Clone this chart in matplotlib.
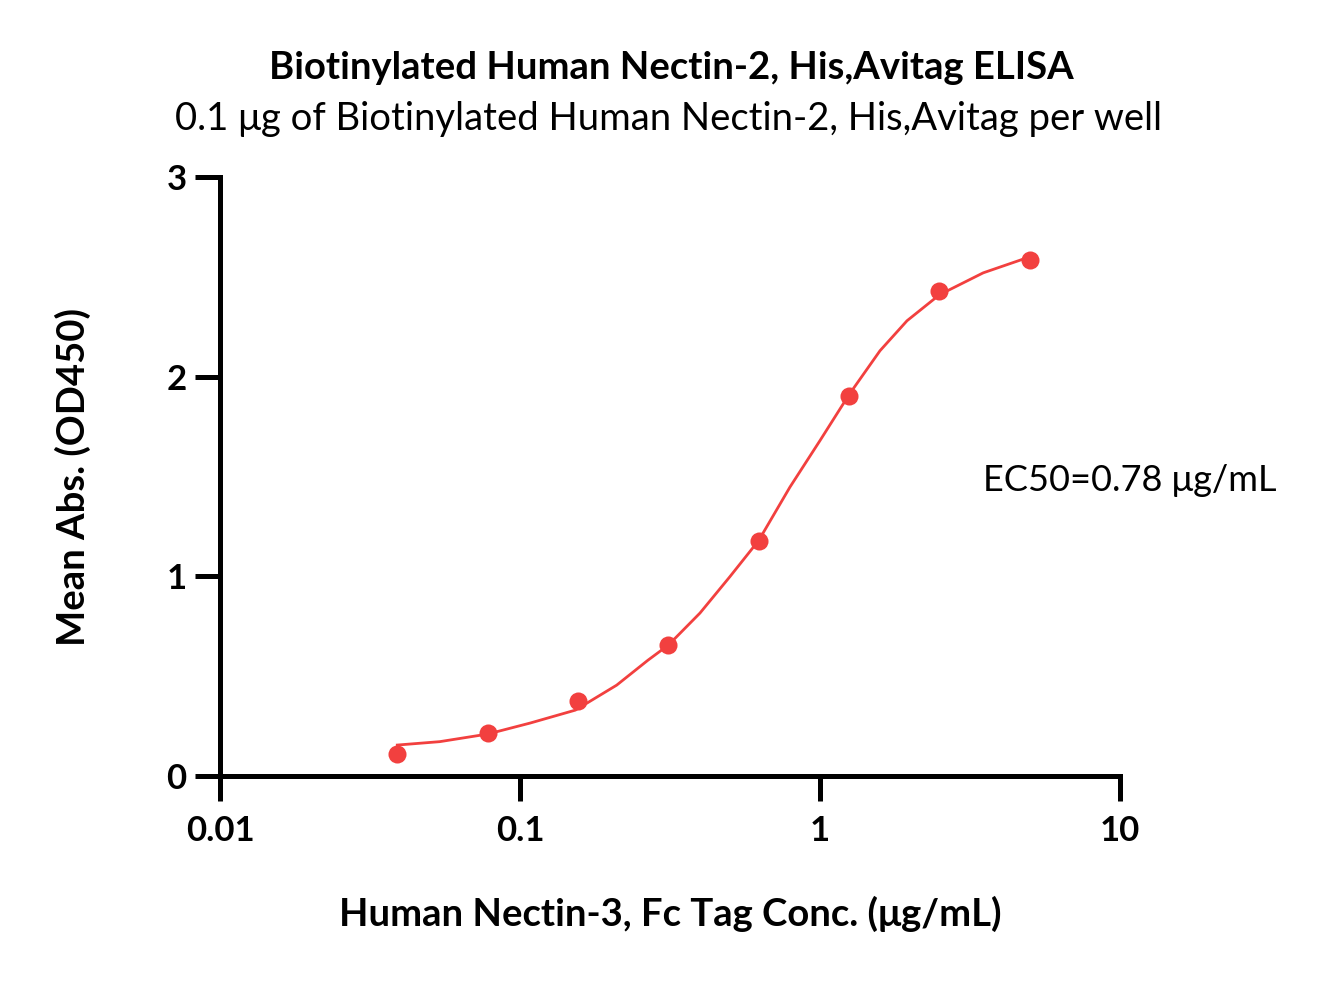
import matplotlib
matplotlib.use("Agg")
import matplotlib.pyplot as plt
from matplotlib.ticker import FixedLocator, NullLocator

plt.rcParams["font.family"] = ["Lato", "DejaVu Sans"]

# measured points
conc = [0.039, 0.078, 0.156, 0.3125, 0.625, 1.25, 2.5, 5.0]
od450 = [0.11, 0.215, 0.375, 0.656, 1.177, 1.903, 2.43, 2.584]

# fitted curve
curve_x = [0.039, 0.054, 0.078, 0.108, 0.153, 0.21, 0.267, 0.3125, 0.398, 0.50,
           0.625, 0.794, 1.0, 1.25, 1.585, 1.95, 2.5, 3.5, 5.0]
curve_y = [0.155, 0.172, 0.21, 0.265, 0.33, 0.455, 0.58, 0.656, 0.816, 0.997,
           1.18, 1.447, 1.68, 1.91, 2.13, 2.28, 2.41, 2.52, 2.60]

x_ticks = [0.01, 0.1, 1, 10]
x_tick_labels = ["0.01", "0.1", "1", "10"]
y_ticks = [0, 1, 2, 3]

RED = "#F2403F"

fig = plt.figure(figsize=(13.25, 9.81), dpi=100)
ax = fig.add_axes([220 / 1325, 1 - 776 / 981, 900 / 1325, 599 / 981])

ax.plot(curve_x, curve_y, color=RED, lw=2.0, zorder=2, solid_joinstyle="round")
ax.plot(conc, od450, "o", color=RED, ms=13, mec="none", zorder=3, clip_on=False)

ax.set_xscale("log")
ax.set_xlim(0.01, 10)
ax.set_ylim(0, 3)
ax.xaxis.set_major_locator(FixedLocator(x_ticks))
ax.xaxis.set_minor_locator(NullLocator())
ax.set_xticklabels(x_tick_labels)
ax.set_yticks(y_ticks)

for side in ("top", "right"):
    ax.spines[side].set_visible(False)
for side in ("left", "bottom"):
    ax.spines[side].set_linewidth(3.6)
ax.tick_params(axis="both", which="major", direction="out", length=18, width=3.6,
               labelsize=25)
ax.tick_params(axis="x", pad=10)
ax.tick_params(axis="y", pad=6)
for lbl in ax.get_xticklabels() + ax.get_yticklabels():
    lbl.set_fontweight("bold")

ax.set_xlabel("Human Nectin-3, Fc Tag Conc. (μg/mL)", fontsize=27.5, fontweight="bold", va="center")
ax.set_ylabel("Mean Abs. (OD450)", fontsize=27.5, fontweight="bold", va="center")
ax.xaxis.set_label_coords(0.5, (776 - 914) / 599)
ax.yaxis.set_label_coords((73 - 220) / 900, 0.5)

fig.text(671 / 1325, 1 - 68 / 981, "Biotinylated Human Nectin-2, His,Avitag ELISA",
         ha="center", va="center", fontsize=27.5, fontweight="bold")
fig.text(669 / 1325, 1 - 119 / 981, "0.1 μg of Biotinylated Human Nectin-2, His,Avitag per well",
         ha="center", va="center", fontsize=27.5)
ax.text(3.49, 1.482, "EC50=0.78 μg/mL", fontsize=26, ha="left", va="center")

fig.savefig("out.png", dpi=100)
